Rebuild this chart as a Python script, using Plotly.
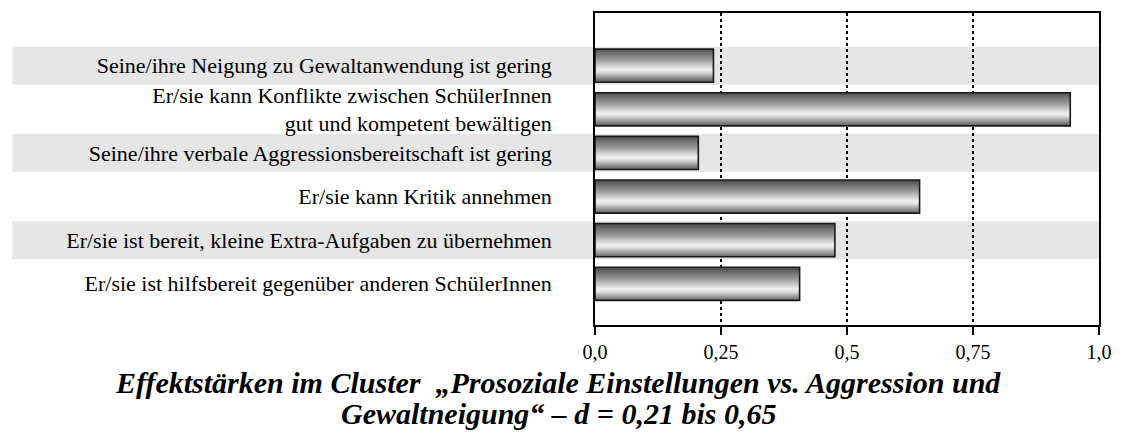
import plotly.graph_objects as go

# ---- data ----
labels = [
    "Seine/ihre Neigung zu Gewaltanwendung ist gering",
    "Er/sie kann Konflikte zwischen SchülerInnen<br>gut und kompetent bewältigen",
    "Seine/ihre verbale Aggressionsbereitschaft ist gering",
    "Er/sie kann Kritik annehmen",
    "Er/sie ist bereit, kleine Extra-Aufgaben zu übernehmen",
    "Er/sie ist hilfsbereit gegenüber anderen SchülerInnen",
]
values = [0.235, 0.943, 0.205, 0.644, 0.476, 0.406]
x_tickvals = [0, 0.25, 0.5, 0.75, 1.0]
x_ticktext = ["0,0", "0,25", "0,5", "0,75", "1,0"]
shaded_rows = [0, 2, 4]
title_lines = [
    "Effektstärken im Cluster  „Prosoziale Einstellungen vs. Aggression und",
    "Gewaltneigung“ – d = 0,21 bis 0,65",
]

# ---- style ----
FONT = "Liberation Serif, Times New Roman, serif"
BAR_H = 0.76
BAND_H = 0.87
grad = [
    [0.0, "#505050"], [0.12, "#707070"], [0.3, "#979797"], [0.45, "#c4c4c4"],
    [0.6, "#efefef"], [0.68, "#e0e0e0"], [0.8, "#a8a8a8"], [0.92, "#737373"],
    [1.0, "#505050"],
]

fig = go.Figure()
rows = list(range(len(labels)))
for i, v in zip(rows, values):
    y0, y1 = i - BAR_H / 2, i + BAR_H / 2
    fig.add_trace(go.Scatter(
        x=[0, v, v, 0, 0], y=[y0, y0, y1, y1, y0],
        mode="lines", fill="toself",
        fillgradient=dict(type="vertical", colorscale=grad, start=y0, stop=y1),
        line=dict(color="#1a1a1a", width=1.6),
        hoverinfo="skip", showlegend=False,
    ))

# page body has an 8px margin; figure is sized so the page does not overflow
OFF = 8
W, H = 1107, 423
ML, MR, MT = 587, 14, 3
PH = 314
MB = H - MT - PH
pw = W - ML - MR


def px_x(x):  # window pixel -> paper x
    return (x - OFF - ML) / pw


def px_y(y):  # window pixel -> paper y
    return ((MT + PH) - (y - OFF)) / PH


shapes = []
for r in shaded_rows:
    shapes.append(dict(
        type="rect", xref="paper", yref="y",
        x0=px_x(10), x1=1, y0=r - BAND_H / 2, y1=r + BAND_H / 2,
        fillcolor="#e6e6e6", line=dict(width=0), layer="below",
    ))

title_y = [383, 414]
annotations = [
    dict(
        xref="paper", yref="paper", x=px_x(558), y=px_y(ty),
        xanchor="center", yanchor="middle", showarrow=False, text=t,
        font=dict(family=FONT, size=30, color="black", weight="bold", style="italic"),
    )
    for t, ty in zip(title_lines, title_y)
]

fig.update_layout(
    width=W, height=H, autosize=False,
    margin=dict(l=ML, r=MR, t=MT, b=MB, pad=0),
    paper_bgcolor="white", plot_bgcolor="rgba(0,0,0,0)",
    font=dict(family=FONT, color="black"),
    shapes=shapes,
    xaxis=dict(
        range=[0, 1], tickvals=x_tickvals, ticktext=x_ticktext,
        ticks="outside", ticklen=8, tickwidth=1.5, tickcolor="black",
        tickfont=dict(family=FONT, size=20, color="black"),
        showgrid=True, gridcolor="black", griddash="dot", gridwidth=1.5,
        showline=True, linecolor="black", linewidth=1.5, mirror=True,
        zeroline=False, fixedrange=True,
    ),
    yaxis=dict(
        range=[5.945, -1.207], tickvals=rows, ticktext=labels,
        ticks="", showgrid=False, zeroline=False,
        tickfont=dict(family=FONT, size=22, color="black"),
        ticklabelstandoff=37,
        showline=True, linecolor="black", linewidth=1.5, mirror=True,
        fixedrange=True,
    ),
    annotations=annotations,
)

fig.write_html("out.html")
